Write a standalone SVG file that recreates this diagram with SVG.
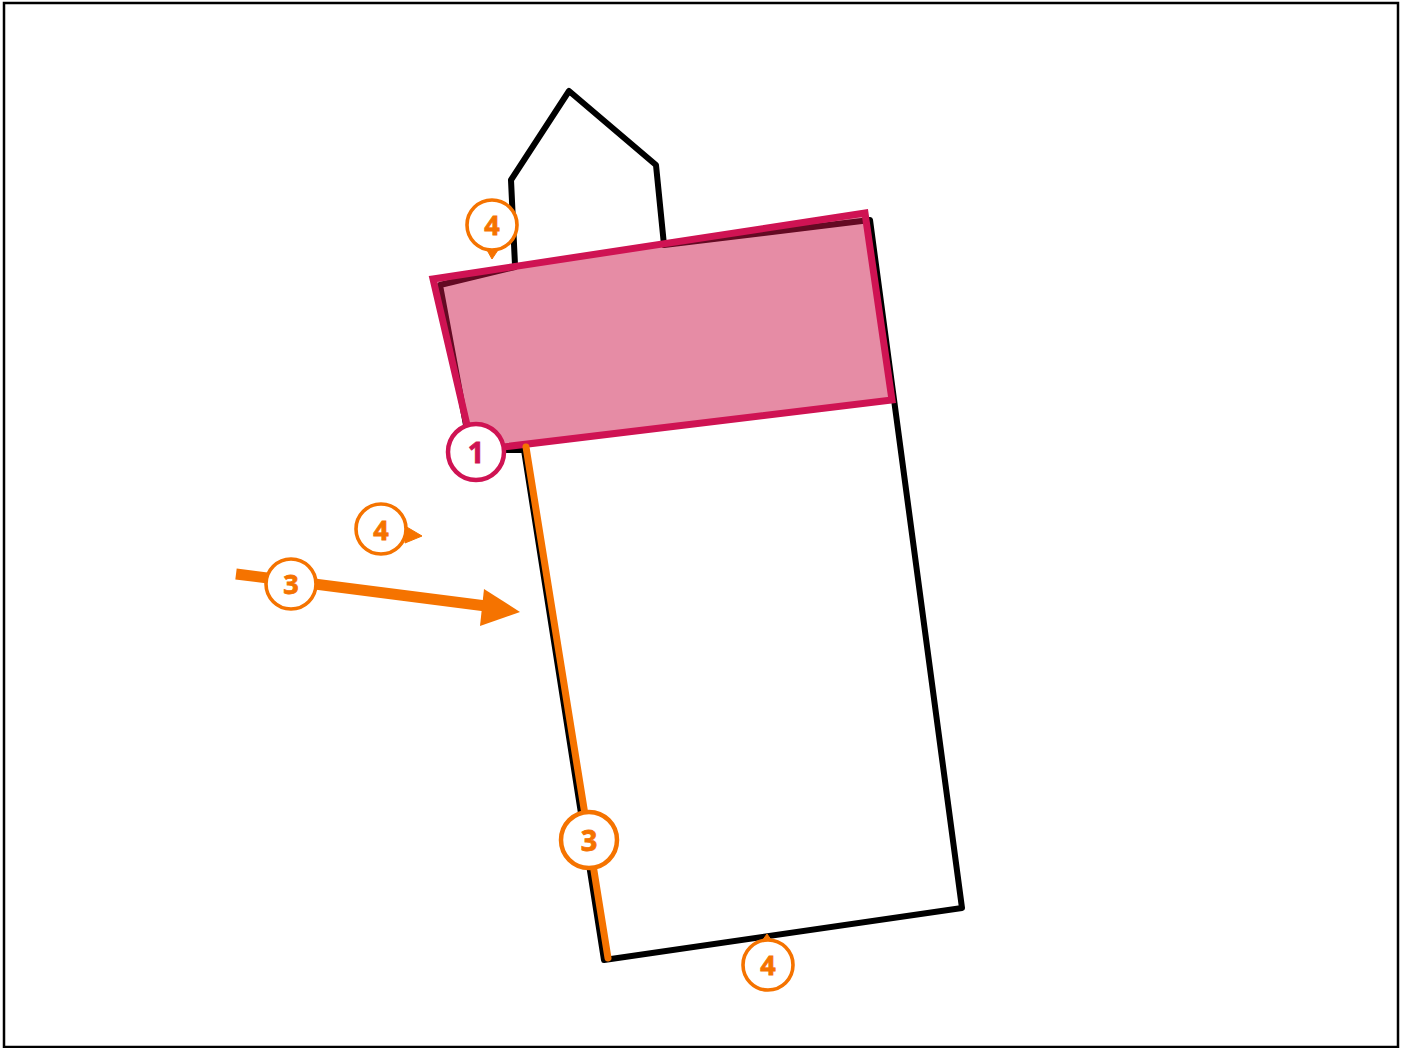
<svg xmlns="http://www.w3.org/2000/svg" width="1405" height="1048" viewBox="0 0 1405 1048">
<style>
.o{fill:none;stroke:#000;stroke-width:6;stroke-linejoin:round;stroke-linecap:round}
.b{fill:#fff;stroke-width:3.6}
.n{font:700 29px "Open Sans",sans-serif;text-anchor:middle;stroke-width:.8}
.s{font-size:27px}
.or{stroke:#f57300}.ot{fill:#f57300;stroke:#f57300}
.pk{stroke:#cf1353}.pt{fill:#cf1353;stroke:#cf1353}
</style>
<rect width="1405" height="1048" fill="#fff"/>
<rect x="4" y="3" width="1394" height="1044" fill="none" stroke="#000" stroke-width="2.5"/>
<g id="outline">
<path class="o" d="M515 265L511 180L569 91L656 165L664 245L870 220L962 908L604 960L524 450L504 450L466 425L440 285L515 267"/>
</g>
<g id="zone">
<path d="M433 279L865 213L892 400L503 447L467 425Z" fill="#cc1448" fill-opacity=".49" stroke="#cf1353" stroke-width="7"/>
</g>
<g id="connectors">
<path d="M526 447L608 958" fill="none" stroke="#f57300" stroke-width="7" stroke-linecap="round"/>
<path d="M236 574L486 606" fill="none" stroke="#f57300" stroke-width="11"/>
<path d="M484 589L520 612L480 626Z" fill="#f57300"/>
</g>
<g id="n1"><circle class="b pk" cx="476" cy="452" r="28" style="stroke-width:4.5"/><text class="n pt" x="476" y="463">1</text></g>
<g id="n3a"><circle class="b or" cx="291" cy="584" r="25"/><text class="n s ot" x="291" y="594">3</text></g>
<g id="n3b"><circle class="b or" cx="589" cy="840" r="28" style="stroke-width:4.5"/><text class="n ot" x="589" y="851">3</text></g>
<g id="n4a"><path class="ot" d="M487 250L498 250L492 259Z"/><circle class="b or" cx="492" cy="225" r="25"/><text class="n s ot" x="492" y="235">4</text></g>
<g id="n4b"><path class="ot" d="M405 526L422 536L405 543Z"/><circle class="b or" cx="381" cy="529" r="25"/><text class="n s ot" x="381" y="540">4</text></g>
<g id="n4c"><path class="ot" d="M762 941L767 934L772 941Z"/><circle class="b or" cx="768" cy="965" r="25"/><text class="n s ot" x="768" y="975">4</text></g>
</svg>
